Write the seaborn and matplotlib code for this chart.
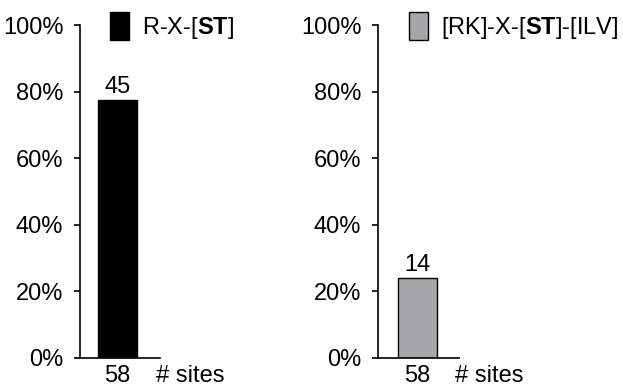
import numpy as np
import pandas as pd
import seaborn as sns
import matplotlib
matplotlib.use("Agg")
import matplotlib.pyplot as plt

# data
motifs = [r"R-X-[$\mathbf{ST}$]", r"[RK]-X-[$\mathbf{ST}$]-[ILV]"]
matched = [45, 14]
total_sites = [58, 58]
bar_colors = ["#000000", "#a6a6aa"]
yticks = [0, 20, 40, 60, 80, 100]

sns.set_style("ticks")
plt.rcParams["font.family"] = ["Liberation Sans", "DejaVu Sans"]
plt.rcParams["mathtext.fontset"] = "custom"
plt.rcParams["mathtext.rm"] = "Liberation Sans"
plt.rcParams["mathtext.bf"] = "Liberation Sans:bold"
plt.rcParams["text.color"] = "black"
plt.rcParams["xtick.color"] = "black"
plt.rcParams["ytick.color"] = "black"
plt.rcParams["axes.edgecolor"] = "black"

W, H = 623, 389
fig = plt.figure(figsize=(W / 100, H / 100), dpi=100)

# axes boxes in pixels
boxes = [(80, 160), (378, 459)]
lefts = [-0.48, -0.5]

for i in range(2):
    x0, x1 = boxes[i]
    ax = fig.add_axes([x0 / W, 31 / H, (x1 - x0) / W, 333 / H])
    pct = matched[i] / total_sites[i] * 100
    df = pd.DataFrame({"n": [str(total_sites[i])], "pct": [pct], "motif": [motifs[i]]})
    sns.barplot(data=df, x="n", y="pct", hue="motif", palette=[bar_colors[i]],
                edgecolor="black", linewidth=1.0, width=0.5, ax=ax, legend=True)
    ax.bar_label(ax.containers[0], labels=[str(matched[i])], padding=1, fontsize=17)
    ax.set_ylim(0, 100)
    ax.set_yticks(yticks)
    ax.set_yticklabels([f"{v}%" for v in yticks], fontsize=17)
    ax.set_xlim(lefts[i], lefts[i] + (x1 - x0) / 78)
    ax.tick_params(axis="y", length=4, width=1.2, pad=8)
    ax.tick_params(axis="x", length=0, labelsize=17, pad=5)
    ax.set_xlabel("")
    ax.set_ylabel("")
    for s in ["top", "right"]:
        ax.spines[s].set_visible(False)
    for s in ["left", "bottom"]:
        ax.spines[s].set_linewidth(1.2)
    ax.text(0.49, -0.022, "# sites", transform=ax.get_xaxis_transform(),
            ha="left", va="top", fontsize=17)
    leg = ax.legend(loc="upper left", bbox_to_anchor=((110 + 299 * i - x0) / (x1 - x0), 1.04),
                    frameon=False, fontsize=17, handlelength=0.8, handleheight=1.45,
                    handletextpad=0.55, borderpad=0, borderaxespad=0)

fig.savefig("out.png", dpi=100)
